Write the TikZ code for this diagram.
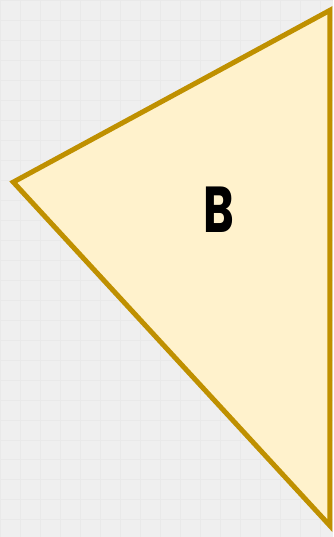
\documentclass[tikz,border=0pt]{standalone}
\usepackage{fontspec}
\usepackage{graphicx}
\usepackage{tikz}
\usetikzlibrary{positioning}
\newfontfamily\labelfont{Poppins}
\definecolor{canvas}{HTML}{EFEFEF}
\definecolor{gridline}{HTML}{E9E9E9}
\definecolor{trifill}{HTML}{FFF2CC}
\definecolor{triedge}{HTML}{BF9000}

\begin{document}
\begin{tikzpicture}[x=1pt, y=-1pt,
  tri/.style={draw=triedge, fill=trifill, line width=5pt, line join=miter},
  lbl/.style={font=\labelfont\bfseries\fontsize{65}{65}\selectfont, text=black, inner sep=0pt}
]
  % background and faint grid
  \fill[canvas] (0,0) rectangle (333,537);
  \draw[gridline, line width=0.6pt, step=20pt] (0,0) grid (333,537);
  \useasboundingbox (0,0) rectangle (333,537);

  \coordinate (top) at (330,10);
  \coordinate (left) at (13,182);
  \coordinate (bottom) at (330,526);
  \draw[tri] (top) -- (left) -- (bottom) -- cycle;

  \node[lbl, anchor=base] (labelB) at (218.5,232) {\scalebox{0.72}[1]{B}};
\end{tikzpicture}
\end{document}
